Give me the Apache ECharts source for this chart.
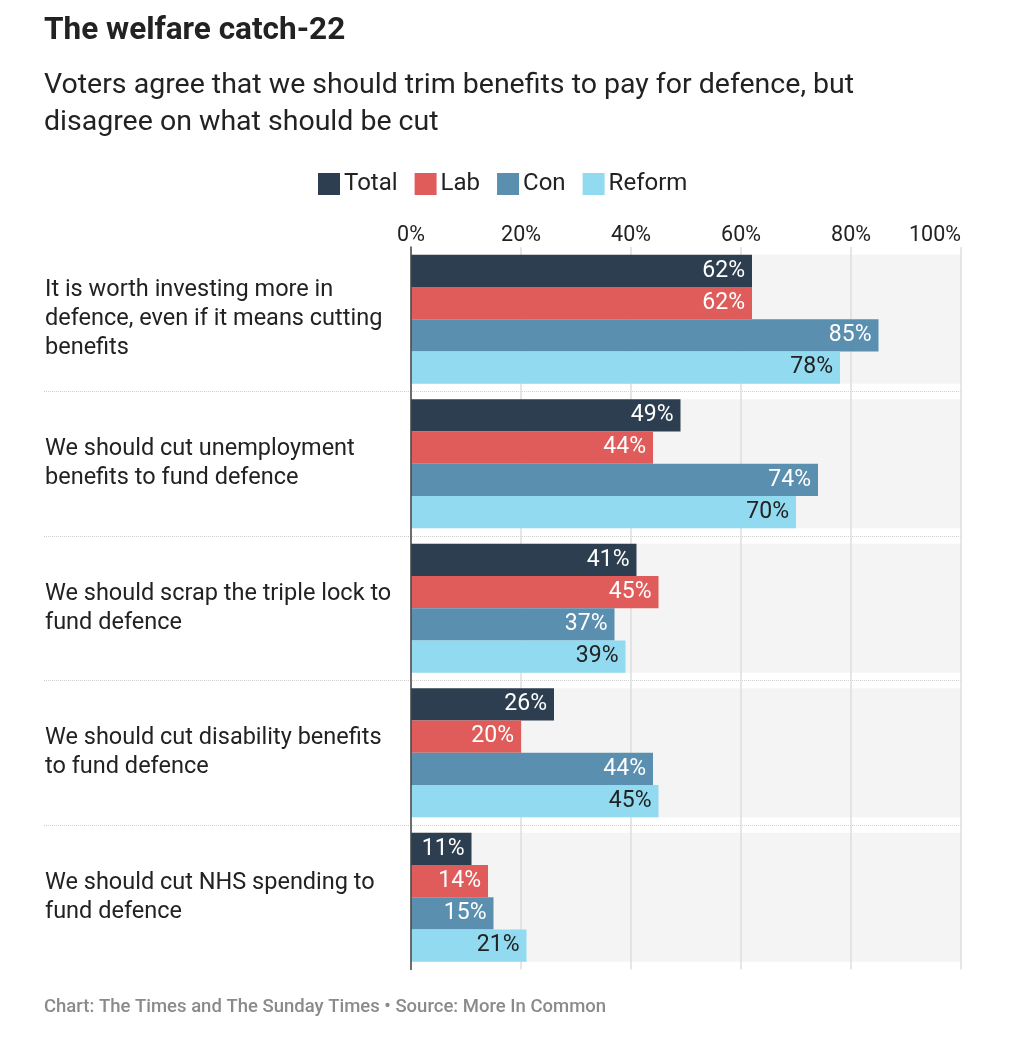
<!DOCTYPE html>
<html>
<head>
<meta charset="utf-8">
<script src="https://cdn.jsdelivr.net/npm/echarts@6/dist/echarts.min.js"></script>
<style>
html, body { margin: 0; padding: 0; background: #fff; }
#chart { width: 1030px; height: 1048px; }
</style>
</head>
<body>
<div id="chart"></div>
<script>
var categories = [
    'It is worth investing more in\ndefence, even if it means cutting\nbenefits',
    'We should cut unemployment\nbenefits to fund defence',
    'We should scrap the triple lock to\nfund defence',
    'We should cut disability benefits\nto fund defence',
    'We should cut NHS spending to\nfund defence'
];
var totalVals = [62, 49, 41, 26, 11];
var labVals = [62, 44, 45, 20, 14];
var conVals = [85, 74, 37, 44, 15];
var reformVals = [78, 70, 39, 45, 21];
var fullVals = [100, 100, 100, 100, 100];

var font = 'Roboto, "Noto Sans", sans-serif';
var myChart = echarts.init(document.getElementById('chart'));

function barSeries(name, data, color, textColor) {
    return {
        name: name,
        type: 'bar',
        xAxisIndex: 1,
        yAxisIndex: 1,
        data: data,
        z: 2,
        barGap: 0,
        barCategoryGap: '10.7%',
        itemStyle: { color: color },
        label: {
            show: true,
            position: 'insideRight',
            distance: 7,
            formatter: '{c}%',
            color: textColor,
            fontFamily: font,
            fontSize: 23
        }
    };
}

myChart.setOption({
    animation: false,
    title: [{
        text: 'The welfare catch-22',
        left: 44,
        top: 15,
        padding: 0,
        textStyle: { fontFamily: font, fontSize: 31.5, fontWeight: 'bold', color: '#222' }
    }, {
        text: 'Voters agree that we should trim benefits to pay for defence, but\ndisagree on what should be cut',
        left: 44,
        top: 67,
        padding: 0,
        textStyle: { fontFamily: font, fontSize: 28.5, fontWeight: 'normal', color: '#222', lineHeight: 37 }
    }, {
        text: 'Chart: The Times and The Sunday Times \u2022 Source: More In Common',
        left: 44,
        top: 998,
        padding: 0,
        textStyle: { fontFamily: font, fontSize: 18.5, fontWeight: 500, color: '#8a8a8a' }
    }],
    legend: {
        left: 318,
        top: 172,
        padding: 0,
        itemWidth: 22,
        itemHeight: 22,
        itemGap: 17,
        icon: 'rect',
        data: ['Total', 'Lab', 'Con', 'Reform'],
        textStyle: { fontFamily: font, fontSize: 24, color: '#222', padding: [0, 0, 0, -1] }
    },
    grid: [
        { left: 44, right: 69, top: 247, height: 722.5 },
        { left: 411, right: 69, top: 247, height: 722.5 }
    ],
    xAxis: [{
        gridIndex: 0,
        type: 'value',
        show: false
    }, {
        gridIndex: 1,
        type: 'value',
        position: 'top',
        min: 0,
        max: 100,
        interval: 20,
        z: 1.5,
        axisLine: { show: false },
        axisTick: { show: false },
        axisLabel: {
            formatter: '{value}%',
            margin: 0,
            alignMaxLabel: 'right',
            fontFamily: font,
            fontSize: 21.5,
            color: '#222'
        },
        splitLine: { show: true, lineStyle: { color: '#dedede', width: 1.5 } }
    }, {
        gridIndex: 1,
        type: 'value',
        min: 0,
        max: 100,
        show: false
    }],
    yAxis: [{
        gridIndex: 0,
        type: 'category',
        inverse: true,
        data: categories,
        axisLine: { show: false },
        axisTick: { show: false },
        axisLabel: { show: false },
        splitLine: {
            show: true,
            showMinLine: false,
            showMaxLine: false,
            lineStyle: { type: 'dotted', color: '#cfcfcf', width: 1 }
        }
    }, {
        gridIndex: 1,
        type: 'category',
        inverse: true,
        data: categories,
        z: 3,
        axisLine: { show: true, lineStyle: { color: '#444', width: 1.5 } },
        axisTick: { show: false },
        axisLabel: {
            align: 'left',
            margin: 366,
            fontFamily: font,
            fontSize: 23.5,
            lineHeight: 29,
            color: '#222'
        }
    }, {
        gridIndex: 1,
        type: 'category',
        inverse: true,
        data: categories,
        show: false
    }],
    series: [
        {
            name: 'bg',
            type: 'bar',
            xAxisIndex: 2,
            yAxisIndex: 2,
            data: fullVals,
            barWidth: 129,
            z: 1,
            silent: true,
            itemStyle: { color: '#f4f4f4' },
            label: { show: false }
        },
        barSeries('Total', totalVals, '#2c3e4f', '#fff'),
        barSeries('Lab', labVals, '#df5c5b', '#fff'),
        barSeries('Con', conVals, '#5a8fb0', '#fff'),
        barSeries('Reform', reformVals, '#92daef', '#222')
    ]
});
</script>
</body>
</html>
